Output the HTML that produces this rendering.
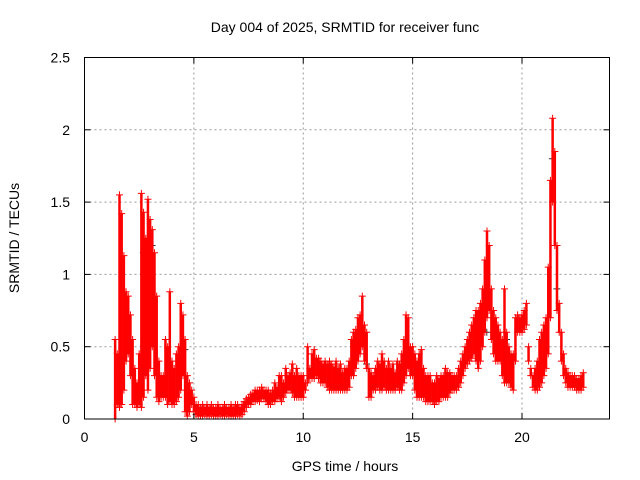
<!DOCTYPE html>
<html><head><meta charset="utf-8"><style>
body{margin:0;background:#fff;}
svg{display:block;font-family:"Liberation Sans",sans-serif;}
</style></head><body>
<svg id="chart" width="640" height="480" viewBox="0 0 640 480" xmlns="http://www.w3.org/2000/svg">
<rect width="640" height="480" fill="#fff"/>
<text x="345" y="32" font-size="14" text-anchor="middle" fill="#000">Day 004 of 2025, SRMTID for receiver func</text>
<text transform="translate(19,238) rotate(-90)" font-size="14" text-anchor="middle" fill="#000">SRMTID / TECUs</text>
<text x="345" y="471" font-size="14" text-anchor="middle" fill="#000">GPS time / hours</text>
<g id="grid"></g>
<g id="marks"></g>
<rect x="84.5" y="57.5" width="525" height="361.5" fill="none" stroke="#000" stroke-width="1"/>
<g id="axes"></g>
</svg>
<script>
const xTicks=[0,5,10,15,20];
const yTicks=[0,0.5,1,1.5,2,2.5];
const yTickLabels=["0","0.5","1","1.5","2","2.5"];
const startHour=1.4;
const hourStep=0.1;
const srmtidLow=[
0.0,0.1,0.08,0.1,0.2,0.4,
0.45,0.3,0.1,0.1,0.08,0.1,0.08,0.15,0.3,0.2,
0.35,0.5,0.3,0.15,0.12,0.15,0.15,0.15,0.1,0.12,
0.1,0.1,0.12,0.15,0.2,0.3,0.05,0.02,0.05,0.1,
0.05,0.03,0.02,0.02,0.02,0.03,0.02,0.02,0.03,0.02,
0.02,0.02,0.03,0.02,0.02,0.03,0.02,0.02,0.02,0.02,
0.03,0.02,0.03,0.05,0.08,0.1,0.1,0.12,0.12,0.13,
0.12,0.14,0.14,0.12,0.1,0.1,0.12,0.12,0.14,0.15,
0.12,0.15,0.18,0.2,0.2,0.18,0.15,0.15,0.15,0.15,
0.15,0.2,0.25,0.28,0.28,0.28,0.3,0.28,0.25,0.25,
0.25,0.22,0.2,0.2,0.2,0.2,0.2,0.2,0.2,0.2,
0.2,0.22,0.3,0.3,0.35,0.4,0.45,0.5,0.4,0.35,
0.15,0.15,0.2,0.2,0.22,0.2,0.2,0.22,0.2,0.2,
0.2,0.2,0.2,0.22,0.2,0.2,0.25,0.3,0.35,0.3,
0.3,0.2,0.15,0.15,0.15,0.15,0.12,0.12,0.12,0.12,
0.1,0.12,0.12,0.15,0.15,0.15,0.15,0.18,0.2,0.2,
0.2,0.22,0.25,0.3,0.35,0.38,0.4,0.42,0.45,0.4,
0.35,0.4,0.5,0.6,0.7,0.75,0.55,0.45,0.4,0.4,
0.4,0.3,0.25,0.25,0.25,0.22,0.2,0.4,0.6,0.6,
0.6,0.62,0.65,0.4,0.3,0.22,0.2,0.2,0.22,0.25,
0.3,0.35,0.45,0.7,1.5,1.2,0.75,0.6,0.4,0.3,
0.25,0.22,0.22,0.22,0.22,0.2,0.2,0.2,0.22];
const srmtidHigh=[
0.55,0.45,1.55,1.42,1.13,0.88,
0.85,0.72,0.55,0.35,0.25,0.45,1.56,1.43,1.25,1.52,
1.38,1.31,1.15,0.85,0.4,0.3,0.3,0.55,0.5,0.88,
0.4,0.35,0.45,0.5,0.8,0.72,0.55,0.3,0.25,0.2,
0.15,0.1,0.1,0.08,0.1,0.08,0.1,0.08,0.1,0.08,
0.08,0.1,0.08,0.08,0.1,0.08,0.08,0.1,0.08,0.1,
0.1,0.08,0.1,0.12,0.14,0.15,0.17,0.18,0.2,0.2,
0.2,0.22,0.2,0.2,0.2,0.18,0.2,0.25,0.22,0.3,
0.3,0.25,0.35,0.3,0.32,0.38,0.3,0.35,0.3,0.3,
0.3,0.25,0.5,0.35,0.45,0.48,0.42,0.42,0.4,0.38,
0.4,0.38,0.4,0.38,0.36,0.4,0.35,0.38,0.32,0.35,
0.35,0.4,0.55,0.6,0.62,0.7,0.72,0.85,0.65,0.6,
0.35,0.32,0.3,0.35,0.4,0.38,0.45,0.4,0.35,0.4,
0.35,0.38,0.32,0.4,0.38,0.45,0.55,0.72,0.7,0.5,
0.5,0.45,0.4,0.45,0.48,0.35,0.3,0.3,0.3,0.25,
0.25,0.3,0.28,0.3,0.3,0.35,0.32,0.32,0.3,0.3,
0.3,0.35,0.4,0.45,0.5,0.55,0.6,0.65,0.7,0.75,
0.75,0.8,0.9,1.1,1.3,1.2,0.9,0.75,0.7,0.65,
0.6,0.55,0.9,0.6,0.5,0.45,0.45,0.7,0.72,0.7,
0.72,0.75,0.8,0.5,0.35,0.3,0.35,0.4,0.55,0.6,
0.65,0.7,1.05,1.65,2.08,1.85,1.2,0.8,0.6,0.45,
0.35,0.32,0.3,0.3,0.3,0.28,0.28,0.3,0.32];
const blackHours=[1.5,2.6,2.9,3.0,4.5,12.8,14.7,17.9,18.3,19.2,21.3,21.5];
const blackValues=[0.35,1.15,1.25,1.2,0.48,0.38,0.4,0.72,0.6,0.55,1.8,0.9];

const X0=84.5,X1=609.5,Y0=419,Y1=57.5;
function xScale(h){return X0+(h/24)*(X1-X0);}
function yScale(v){return Y0-(v/2.5)*(Y0-Y1);}
const NS="http://www.w3.org/2000/svg";
const grid=document.getElementById('grid'),marks=document.getElementById('marks'),axes=document.getElementById('axes');
function mk(tag,attrs,parent){const e=document.createElementNS(NS,tag);for(const k in attrs)e.setAttribute(k,attrs[k]);parent.appendChild(e);return e;}

xTicks.forEach((t,i)=>{
  const x=xScale(t);
  if(t>0){const g=mk('line',{x1:x,x2:x,y1:Y1,y2:Y0,stroke:'#999','stroke-dasharray':'2,3'},grid);
  
  }
  mk('line',{x1:x,x2:x,y1:Y0,y2:Y0-6,stroke:'#000'},axes);
  mk('line',{x1:x,x2:x,y1:Y1,y2:Y1+6,stroke:'#000'},axes);
  const l=mk('text',{x:x,y:442,'font-size':14,'text-anchor':'middle',fill:'#000'},axes);
  l.textContent=String(t);
  
  
});
yTicks.forEach((t,i)=>{
  const y=yScale(t);
  if(t>0&&t<2.5){const g=mk('line',{x1:X0,x2:X1,y1:y,y2:y,stroke:'#999','stroke-dasharray':'2,3'},grid);
  
  }
  mk('line',{x1:X0,x2:X0+6,y1:y,y2:y,stroke:'#000'},axes);
  mk('line',{x1:X1,x2:X1-6,y1:y,y2:y,stroke:'#000'},axes);
  const l=mk('text',{x:70,y:y+5,'font-size':14,'text-anchor':'end',fill:'#000'},axes);
  l.textContent=yTickLabels[i];
  
  
});
function plus(x,y,color,parent){
  const p=mk('path',{d:`M${x-3.5},${y}H${x+3.5}M${x},${y-3.5}V${y+3.5}`,stroke:color,'stroke-width':1,fill:'none'},parent);
  return p;
}
blackHours.forEach((h,i)=>{
  const p=plus(xScale(h)+2,yScale(blackValues[i]),'#333',marks);
  
  
});
srmtidLow.forEach((lo,i)=>{
  const h=startHour+i*hourStep;
  const hi=srmtidHigh[i];
  const x=xScale(h);
  const r=mk('line',{x1:x,x2:x,y1:yScale(lo),y2:yScale(hi),stroke:'#f00','stroke-width':2.5},marks);
  
  
  const a=plus(x,yScale(lo),'#f00',marks);
  
  
  const b=plus(x,yScale(hi),'#f00',marks);
  
  
});
</script>
</body></html>
